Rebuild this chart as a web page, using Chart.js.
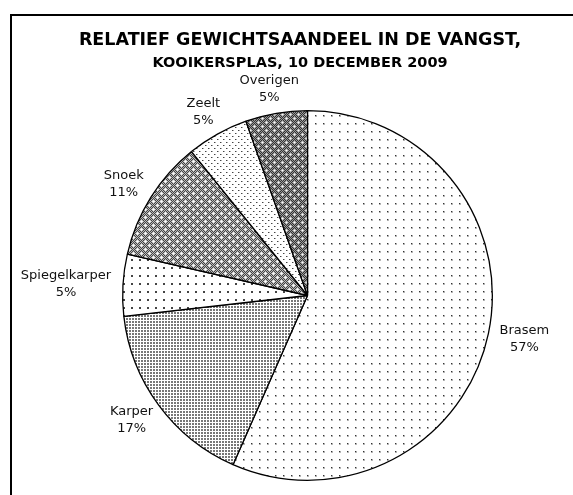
<!DOCTYPE html>
<html>
<head>
<meta charset="utf-8">
<script src="https://cdn.jsdelivr.net/npm/chart.js@4"></script>
<style>
  html, body { margin: 0; padding: 0; background: #fff; }
  canvas { display: block; }
</style>
</head>
<body>
<canvas id="vangstChart" width="573" height="495"></canvas>
<script>
// gewichtsaandeel per soort (%), met de klok mee vanaf boven
const soorten = ['Brasem', 'Karper', 'Spiegelkarper', 'Snoek', 'Zeelt', 'Overigen'];
const aandeel = [56.6, 16.6, 5.4, 10.6, 5.4, 5.4];
const titel = 'RELATIEF GEWICHTSAANDEEL IN DE VANGST,';
const ondertitel = 'KOOIKERSPLAS, 10 DECEMBER 2009';

const canvas = document.getElementById('vangstChart');
const mainCtx = canvas.getContext('2d');

function makePattern(w, h, draw) {
  const c = document.createElement('canvas');
  c.width = w;
  c.height = h;
  const g = c.getContext('2d');
  g.fillStyle = '#fff';
  g.fillRect(0, 0, w, h);
  draw(g);
  return mainCtx.createPattern(c, 'repeat');
}

function px(g, x, y, col) {
  g.fillStyle = col;
  g.fillRect(x, y, 1, 1);
}

function checker(g, w, h, a, b) {
  for (let y = 0; y < h; y++) {
    for (let x = 0; x < w; x++) {
      px(g, x, y, (x + y) % 2 ? a : b);
    }
  }
}

function plus(g, x, y, mid, side) {
  px(g, x, y, mid);
  px(g, x - 1, y, side); px(g, x + 1, y, side);
  px(g, x, y - 1, side); px(g, x, y + 1, side);
}

// sparse dots
const brasemFill = makePattern(8, 8, g => {
  px(g, 3, 3, '#333');
  px(g, 4, 3, '#aaa'); px(g, 3, 4, '#aaa'); px(g, 4, 4, '#bbb');
});
// dense small dots, light grey
const karperFill = makePattern(3, 3, g => {
  g.fillStyle = '#777';
  g.fillRect(0, 0, 2, 2);
});
// bigger dots
const spiegelFill = makePattern(8, 8, g => {
  g.fillStyle = '#444';
  g.fillRect(3, 3, 2, 2);
});
// diamond grid, mid grey
const snoekFill = makePattern(8, 8, g => {
  checker(g, 8, 8, '#444', '#bbb');
  plus(g, 1, 1, '#fff', '#eee');
  plus(g, 5, 5, '#fff', '#eee');
});
// fine staggered dots
const zeeltFill = makePattern(6, 6, g => {
  px(g, 1, 1, '#444'); px(g, 2, 1, '#aaa');
  px(g, 4, 4, '#444'); px(g, 5, 4, '#aaa');
});
// dark with white dots
const overigFill = makePattern(8, 8, g => {
  checker(g, 8, 8, '#333', '#999');
  plus(g, 2, 2, '#fff', '#ccc');
  plus(g, 6, 6, '#fff', '#ccc');
});

const fills = [brasemFill, karperFill, spiegelFill, snoekFill, zeeltFill, overigFill];

const decor = {
  id: 'decor',
  beforeDraw(chart) {
    const ctx = chart.ctx;
    ctx.save();
    ctx.fillStyle = '#fff';
    ctx.fillRect(0, 0, chart.width, chart.height);
    ctx.restore();
  },
  afterDraw(chart) {
    const ctx = chart.ctx;
    ctx.save();
    // kader
    ctx.strokeStyle = '#000';
    ctx.lineWidth = 2;
    ctx.strokeRect(11, 15, 640, 540);

    ctx.fillStyle = '#000';
    ctx.textAlign = 'center';
    ctx.textBaseline = 'alphabetic';
    ctx.font = 'bold 17.5px "DejaVu Sans"';
    ctx.fillText(titel, 300, 45);
    ctx.font = 'bold 14.5px "DejaVu Sans"';
    ctx.fillText(ondertitel, 300, 67);

    // labels buiten de taartpunten
    const meta = chart.getDatasetMeta(0);
    const total = aandeel.reduce((a, b) => a + b, 0);
    ctx.font = '13px "DejaVu Sans"';
    ctx.textBaseline = 'middle';
    ctx.fillStyle = '#111';
    const lh = 17;
    meta.data.forEach((arc, i) => {
      const p = arc.getProps(['x', 'y', 'startAngle', 'endAngle', 'outerRadius'], true);
      const mid = (p.startAngle + p.endAngle) / 2;
      const lines = [soorten[i], Math.round(aandeel[i] / total * 100) + '%'];
      const w = Math.max(...lines.map(t => ctx.measureText(t).width));
      const h = lh * 2;
      const ax = p.x + Math.cos(mid) * (p.outerRadius + 12);
      const ay = p.y + Math.sin(mid) * (p.outerRadius + 8);
      const cx = ax + Math.cos(mid) * w / 2;
      const cy = ay + Math.sin(mid) * h / 2;
      ctx.fillText(lines[0], cx, cy - lh / 2);
      ctx.fillText(lines[1], cx, cy + lh / 2);
    });
    ctx.restore();
  }
};

const config = {
  type: 'pie',
  data: {
    labels: soorten,
    datasets: [{
      data: aandeel,
      backgroundColor: fills,
      borderColor: '#000',
      borderWidth: 1.3
    }]
  },
  options: {
    responsive: false,
    animation: false,
    layout: {
      padding: { left: 122, right: 80, top: 110, bottom: 14 }
    },
    plugins: {
      legend: { display: false },
      tooltip: { enabled: false },
      title: { display: false }
    }
  },
  plugins: [decor]
};

const vangstChart = new Chart(canvas, config);
</script>
</body>
</html>
